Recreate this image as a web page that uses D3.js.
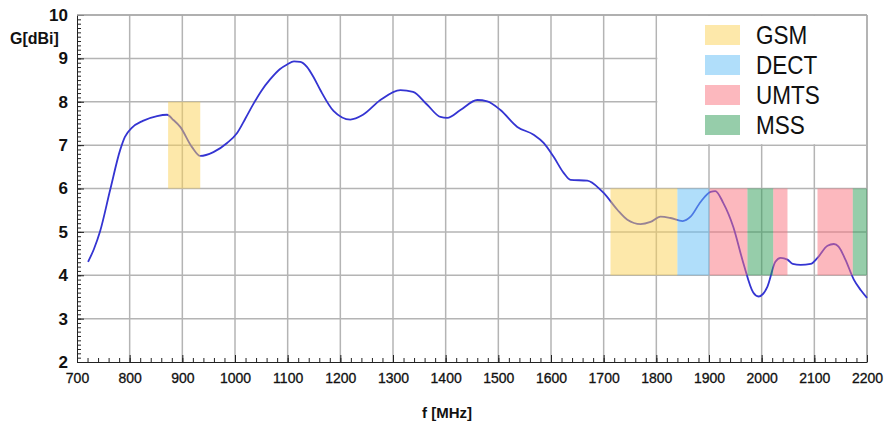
<!DOCTYPE html>
<html>
<head>
<meta charset="utf-8">
<script src="https://cdn.jsdelivr.net/npm/d3@7"></script>
<style>
  body { margin: 0; background: #fff; }
  svg { display: block; font-family: "Liberation Sans", Arial, sans-serif; }
</style>
</head>
<body>
<div id="chart"></div>
<script>
// Gain curve: frequency in MHz, gain in dBi
const freqs = [721, 732, 744, 763, 782, 791, 804, 825, 852, 871, 883, 896, 918, 934, 959, 985,
  1004, 1020, 1035, 1050, 1067, 1085, 1099, 1112, 1124, 1137, 1149, 1162, 1187, 1219, 1243, 1276, 1314, 1338,
  1365, 1390, 1403, 1428, 1460, 1479, 1504, 1536, 1567, 1586, 1605, 1624, 1637, 1669, 1694,
  1700, 1726, 1745, 1770, 1789, 1808, 1827, 1850, 1865, 1884, 1903, 1912, 1927, 1946, 1965,
  1984, 1994, 2011, 2026, 2036, 2049, 2059, 2074, 2093, 2106, 2125, 2137, 2146, 2159, 2175,
  2188, 2200];
const gains = [4.31, 4.6, 5.02, 5.97, 6.89, 7.19, 7.4, 7.56, 7.67, 7.7, 7.58, 7.42, 6.96, 6.75, 6.84, 7.05,
  7.28, 7.62, 7.95, 8.25, 8.52, 8.75, 8.86, 8.93, 8.92, 8.8, 8.57, 8.27, 7.79, 7.59, 7.7, 8.04, 8.27, 8.23,
  7.93, 7.65, 7.63, 7.81, 8.04, 8.01, 7.81, 7.42, 7.24, 7.05, 6.73, 6.36, 6.2, 6.18, 5.97,
  5.9, 5.51, 5.28, 5.18, 5.23, 5.35, 5.32, 5.25, 5.35, 5.69, 5.92, 5.94, 5.67, 5.12, 4.29,
  3.6, 3.51, 3.74, 4.31, 4.4, 4.36, 4.26, 4.24, 4.26, 4.4, 4.68, 4.72, 4.66, 4.36, 3.9,
  3.66, 3.48];

// Frequency bands: service, start, end (MHz), gain range low/high
const bandNames = ["GSM", "GSM", "DECT", "UMTS", "MSS", "UMTS", "UMTS", "MSS"];
const bandStart = [873, 1713, 1840, 1901, 1973, 2022, 2106, 2173];
const bandEnd = [934, 1840, 1901, 1973, 2022, 2049, 2173, 2200];
const bandLow = [6, 4, 4, 4, 4, 4, 4, 4];
const bandHigh = [8, 6, 6, 6, 6, 6, 6, 6];

const services = ["GSM", "DECT", "UMTS", "MSS"];
const serviceColors = ["#fbd155", "#61bdf5", "#f9717d", "#2d9b55"];

const xTicks = d3.range(700, 2201, 100);
const yTicks = d3.range(2, 11, 1);

const width = 884, height = 423;
const margin = { top: 15, right: 17, bottom: 61, left: 77 };

const svg = d3.select("#chart")
  .append("svg")
  .attr("width", width)
  .attr("height", height);

const x = d3.scaleLinear()
  .domain([700, 2200])
  .range([margin.left, width - margin.right]);

const y = d3.scaleLinear()
  .domain([2, 10])
  .range([height - margin.bottom, margin.top]);

const color = d3.scaleOrdinal().domain(services).range(serviceColors);

// Grid
svg.append("g")
  .selectAll("line")
  .data(xTicks.slice(1))
  .join("line")
  .attr("x1", d => x(d)).attr("x2", d => x(d))
  .attr("y1", y(2)).attr("y2", y(10))
  .attr("stroke", "#b4b4b4")
  .attr("stroke-width", d => d === 2200 ? 2 : 1.5);

svg.append("g")
  .selectAll("line")
  .data(yTicks.slice(1))
  .join("line")
  .attr("x1", x(700)).attr("x2", x(2200))
  .attr("y1", d => y(d)).attr("y2", d => y(d))
  .attr("stroke", "#b4b4b4")
  .attr("stroke-width", 1.5);

// Gain curve
const line = d3.line()
  .x((d, i) => x(freqs[i]))
  .y(d => y(d))
  .curve(d3.curveMonotoneX);

svg.append("path")
  .datum(gains)
  .attr("fill", "none")
  .attr("stroke", "#3434d2")
  .attr("stroke-width", 1.8)
  .attr("d", line);

// Bands drawn over the curve, see-through
svg.append("g")
  .selectAll("rect")
  .data(bandNames)
  .join("rect")
  .attr("x", (d, i) => x(bandStart[i]))
  .attr("width", (d, i) => x(bandEnd[i]) - x(bandStart[i]))
  .attr("y", (d, i) => y(bandHigh[i]))
  .attr("height", (d, i) => y(bandLow[i]) - y(bandHigh[i]))
  .attr("fill", d => color(d))
  .attr("fill-opacity", 0.5);

// Axes
const xAxis = svg.append("g")
  .attr("transform", `translate(0,${y(2)})`)
  .call(d3.axisBottom(x).tickValues(xTicks).tickFormat(d3.format("d"))
    .tickSizeInner(-7).tickSizeOuter(0).tickPadding(11));

svg.append("g")
  .attr("transform", `translate(0,${y(2)})`)
  .call(d3.axisBottom(x).tickValues(d3.range(700, 2201, 20)).tickSizeInner(-4).tickSizeOuter(0).tickFormat(""))
  .call(g => g.select(".domain").remove());

const yAxis = svg.append("g")
  .attr("transform", `translate(${x(700)},0)`)
  .call(d3.axisLeft(y).tickValues(yTicks).tickSizeInner(-7).tickSizeOuter(0).tickPadding(9));

svg.append("g")
  .attr("transform", `translate(${x(700)},0)`)
  .call(d3.axisLeft(y).tickValues(d3.range(2, 10.01, 0.1)).tickSizeInner(-4).tickSizeOuter(0).tickFormat(""))
  .call(g => g.select(".domain").remove());

svg.selectAll(".domain, .tick line").attr("stroke", "#222");

xAxis.selectAll("text")
  .attr("font-size", 14)
  .attr("font-family", "Liberation Sans, Arial, sans-serif")
  .attr("fill", "#111")
  .attr("stroke", "#111")
  .attr("stroke-width", 0.3);

yAxis.selectAll("text")
  .attr("font-size", 17)
  .attr("font-weight", "bold")
  .attr("font-family", "Liberation Sans, Arial, sans-serif")
  .attr("fill", "#111");

// Top border
svg.append("line")
  .attr("x1", x(700)).attr("x2", x(2200))
  .attr("y1", y(10)).attr("y2", y(10))
  .attr("stroke", "#a8a8a8")
  .attr("stroke-width", 1.5);

// Axis titles
svg.append("text")
  .attr("x", 10)
  .attr("y", 44)
  .attr("font-size", 16)
  .attr("font-weight", "bold")
  .attr("fill", "#111")
  .text("G[dBi]");

svg.append("text")
  .attr("x", 447)
  .attr("y", 418)
  .attr("text-anchor", "middle")
  .attr("font-size", 15)
  .attr("font-weight", "bold")
  .attr("fill", "#111")
  .text("f [MHz]");

// Legend
const legend = svg.append("g");

legend.append("rect")
  .attr("x", x(1800) + 1)
  .attr("y", y(10) + 1)
  .attr("width", x(2200) - x(1800) - 2)
  .attr("height", y(7) - y(10) - 2)
  .attr("fill", "#fff");

const item = legend.selectAll("g.item")
  .data(services)
  .join("g")
  .attr("class", "item")
  .attr("transform", (d, i) => `translate(705,${25 + i * 30})`);

item.append("rect")
  .attr("width", 35)
  .attr("height", 20)
  .attr("fill", d => color(d))
  .attr("fill-opacity", 0.5);

item.append("text")
  .attr("transform", "translate(51,19) scale(0.9,1)")
  .attr("font-size", 25)
  .attr("fill", "#111")
  .text(d => d);
</script>
</body>
</html>
